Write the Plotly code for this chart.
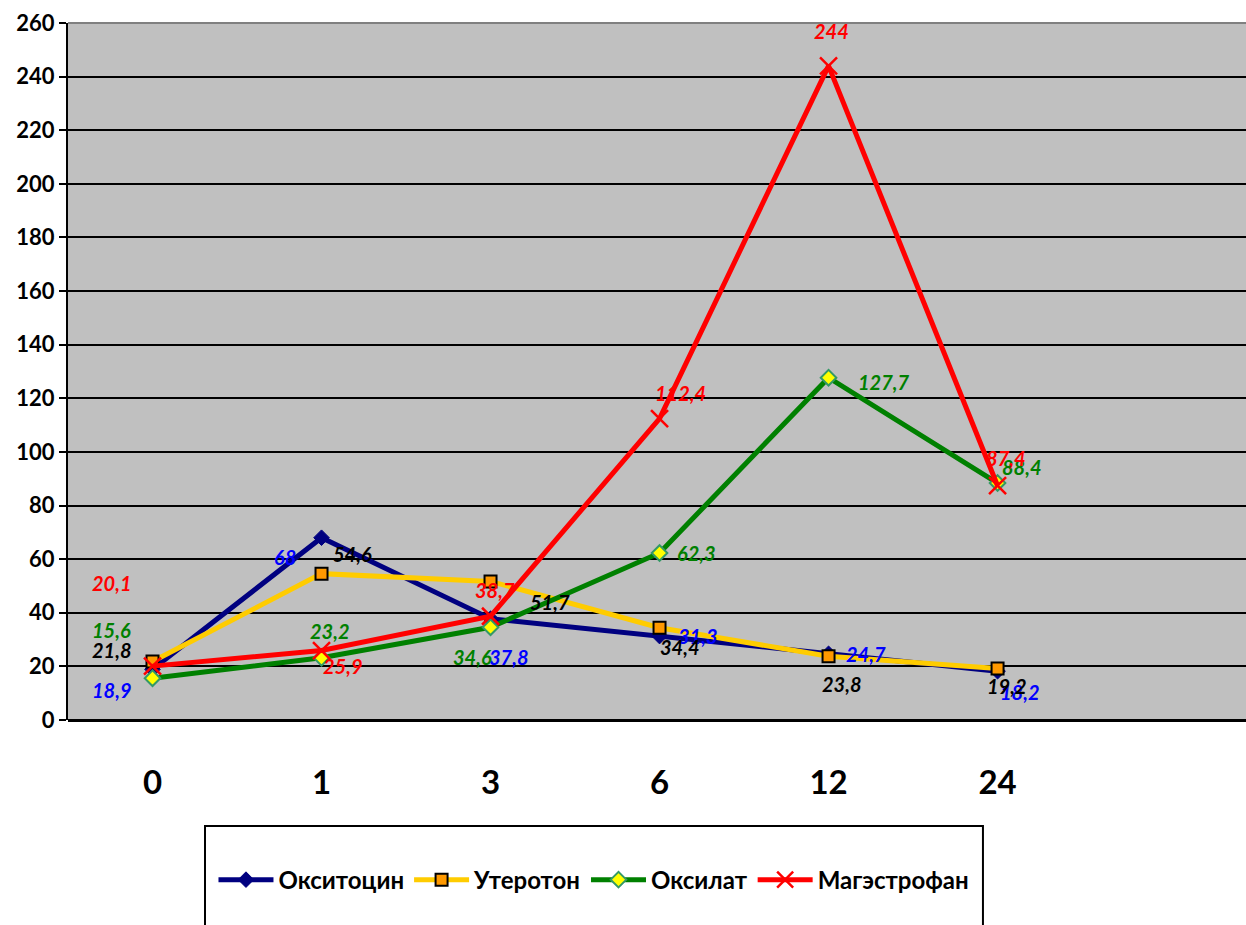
import plotly.graph_objects as go

# Time points (hours) and measured values for each preparation
hours = ["0", "1", "3", "6", "12", "24"]
oxytocin = [18.9, 68, 37.8, 31.3, 24.7, 18.2]
uteroton = [21.8, 54.6, 51.7, 34.4, 23.8, 19.2]
oxilat = [15.6, 23.2, 34.6, 62.3, 127.7, 88.4]
magestrofan = [20.1, 25.9, 38.7, 112.4, 244, 87.4]

y_ticks = list(range(0, 261, 20))

series = [
    dict(name="Окситоцин", y=oxytocin, line="#000080", label="#0000FF",
         marker=dict(symbol="diamond", size=12, color="#000080",
                     line=dict(color="#000080", width=1)),
         shifts=[(-41, -21), (-37, -19), (18, -38), (38, 0), (37, 0), (22, -21)]),
    dict(name="Утеротон", y=uteroton, line="#FFCC00", label="#000000",
         marker=dict(symbol="square", size=12, color="#FF9900",
                     line=dict(color="#000000", width=2)),
         shifts=[(-41, 12), (31, 20), (59, -21), (20, -19), (13, -28), (9, -17)]),
    dict(name="Оксилат", y=oxilat, line="#008000", label="#008000",
         marker=dict(symbol="diamond", size=12, color="#FFFF00",
                     line=dict(color="#339966", width=2)),
         shifts=[(-41, 48), (8, 27), (-18, -30), (37, 0), (55, -4), (24, 16)]),
    dict(name="Магэстрофан", y=magestrofan, line="#FF0000", label="#FF0000",
         marker=dict(symbol="x-thin", size=17, color="#FF0000",
                     line=dict(color="#FF0000", width=2.5)),
         shifts=[(-41, 83), (21, -15), (4, 26), (21, 26), (3, 35), (8, 28)]),
]

fig = go.Figure()
annotations = []
for s in series:
    fig.add_trace(go.Scatter(
        x=hours, y=s["y"], name=s["name"], mode="lines+markers",
        line=dict(color=s["line"], width=5), marker=s["marker"],
    ))
    # value labels; category positions are given by index
    for i, (v, (dx, dy)) in enumerate(zip(s["y"], s["shifts"])):
        annotations.append(dict(
            x=i, y=v, xref="x", yref="y", showarrow=False,
            text="<b><i>" + (f"{v:g}".replace(".", ",")) + "</i></b>",
            font=dict(family="Lato", size=20, color=s["label"]),
            xshift=dx, yshift=dy,
        ))

fig.update_layout(
    width=1246, height=925,
    margin=dict(l=68, r=0, t=23, b=205),
    paper_bgcolor="white", plot_bgcolor="#C0C0C0",
    annotations=annotations,
    showlegend=True,
    legend=dict(
        orientation="h", x=0.4465, xanchor="center", y=-0.2296, yanchor="middle",
        font=dict(family="Lato", size=24, color="#000000", weight="bold"),
        bgcolor="rgba(0,0,0,0)", itemwidth=55, tracegroupgap=0,
    ),
    shapes=[
        # frame around the legend
        dict(type="rect", xref="paper", yref="paper",
             x0=0.1163, x1=0.7767, y0=-0.1521, y1=-0.40,
             line=dict(color="#000000", width=2), fillcolor="rgba(0,0,0,0)"),
        # top border of the plot area
        dict(type="line", xref="paper", yref="paper", x0=0, x1=1, y0=1, y1=1,
             line=dict(color="#808080", width=2)),
    ],
)

fig.update_xaxes(
    type="category", range=[-0.5, 6.47], showgrid=False, zeroline=False,
    showline=False, ticks="",
    tickfont=dict(family="Lato", size=33, color="#000000", weight="bold"),
    ticklabelstandoff=40,
)
fig.update_yaxes(
    range=[0, 260], tickvals=y_ticks, showgrid=True, gridcolor="#000000",
    gridwidth=2, zeroline=True, zerolinecolor="#000000", zerolinewidth=3,
    showline=True, linecolor="#000000", linewidth=2,
    ticks="outside", ticklen=7, tickwidth=2, tickcolor="#000000",
    tickfont=dict(family="Lato", size=22, color="#000000", weight="bold"),
)

fig.write_html("out.html")
